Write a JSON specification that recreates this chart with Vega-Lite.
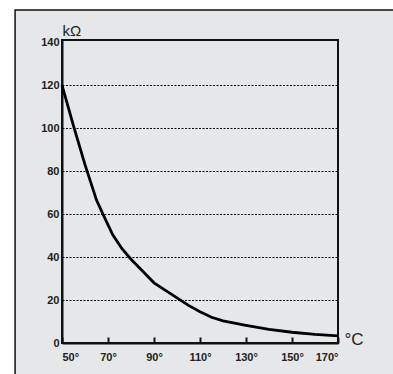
{
  "$schema": "https://vega.github.io/schema/vega-lite/v6.json",
  "width": 276,
  "height": 303,
  "autosize": {"type": "none"},
  "padding": {"left": 62, "top": 40, "right": 55, "bottom": 31},
  "background": "#e6e7e8",
  "config": {
    "view": {"stroke": "#111111", "strokeWidth": 2},
    "font": "Liberation Sans",
    "axis": {"zindex": 1},
    "axisX": {
      "domainColor": "#111111", "domainWidth": 2,
      "tickColor": "#111111", "tickWidth": 2, "tickSize": -6,
      "labelFont": "Liberation Sans", "labelFontSize": 11, "labelFontWeight": "bold",
      "labelColor": "#222222", "labelPadding": 14,
      "grid": false,
      "titleX": 282, "titleY": 1, "titleAlign": "left", "titleBaseline": "alphabetic",
      "titleFont": "Liberation Sans", "titleFontSize": 17, "titleFontWeight": "normal", "titleColor": "#222222"
    },
    "axisY": {
      "domainColor": "#111111", "domainWidth": 2,
      "ticks": false,
      "labelFont": "Liberation Sans", "labelFontSize": 11, "labelFontWeight": "bold",
      "labelColor": "#222222", "labelPadding": 3,
      "titleAngle": 0, "titleX": 0, "titleY": -5, "titleAlign": "left", "titleBaseline": "alphabetic",
      "titleFont": "Liberation Sans", "titleFontSize": 15, "titleFontWeight": "normal", "titleColor": "#222222"
    }
  },
  "layer": [
    {
      "data": {"values": [
        {"temp": 50, "kohm": 120},
        {"temp": 55, "kohm": 101},
        {"temp": 60, "kohm": 83},
        {"temp": 65, "kohm": 66.5},
        {"temp": 68, "kohm": 59.5},
        {"temp": 72, "kohm": 50.5},
        {"temp": 76, "kohm": 44},
        {"temp": 80, "kohm": 39},
        {"temp": 85, "kohm": 33.5},
        {"temp": 90, "kohm": 28},
        {"temp": 95, "kohm": 24.5},
        {"temp": 100, "kohm": 21},
        {"temp": 105, "kohm": 17.5},
        {"temp": 110, "kohm": 14.5},
        {"temp": 115, "kohm": 12},
        {"temp": 120, "kohm": 10.3},
        {"temp": 130, "kohm": 8.2},
        {"temp": 140, "kohm": 6.3},
        {"temp": 150, "kohm": 5},
        {"temp": 160, "kohm": 4},
        {"temp": 170, "kohm": 3.3}
      ]},
      "mark": {"type": "line", "color": "#000000", "strokeWidth": 2.8, "clip": false},
      "encoding": {
        "x": {
          "field": "temp", "type": "quantitative",
          "scale": {"domain": [50, 170], "nice": false, "zero": false},
          "axis": {"values": [50, 70, 90, 110, 130, 150, 170], "labelExpr": "datum.value + '°'", "title": "°C"}
        },
        "y": {
          "field": "kohm", "type": "quantitative",
          "scale": {"domain": [0, 141], "nice": false, "zero": false},
          "axis": {
            "values": [0, 20, 40, 60, 80, 100, 120, 140],
            "title": "kΩ",
            "grid": true, "gridColor": "#000000", "gridWidth": 1.2, "gridDash": [2, 1.5],
            "gridOpacity": {"condition": {"test": "datum.value === 0 || datum.value === 140", "value": 0}, "value": 1}
          }
        }
      }
    },
    {
      "data": {"values": [{}]},
      "mark": {"type": "rect", "fill": "#ffffff", "stroke": null},
      "encoding": {
        "x": {"datum": -100, "type": "quantitative", "title": "°C"},
        "x2": {"datum": 29.6},
        "y": {"datum": -100, "type": "quantitative", "title": "kΩ"},
        "y2": {"datum": 400}
      }
    },
    {
      "data": {"values": [{}]},
      "mark": {"type": "rect", "fill": "#ffffff", "stroke": null},
      "encoding": {
        "x": {"datum": -100, "type": "quantitative", "title": "°C"},
        "x2": {"datum": 400},
        "y": {"datum": 155, "type": "quantitative", "title": "kΩ"},
        "y2": {"datum": 400}
      }
    },
    {
      "data": {"values": [{}]},
      "mark": {"type": "rect", "fill": null, "stroke": "#111111", "strokeWidth": 1.5},
      "encoding": {
        "x": {"datum": 29.6, "type": "quantitative", "title": "°C"},
        "x2": {"datum": 400},
        "y": {"datum": -100, "type": "quantitative", "title": "kΩ"},
        "y2": {"datum": 155}
      }
    }
  ]
}
